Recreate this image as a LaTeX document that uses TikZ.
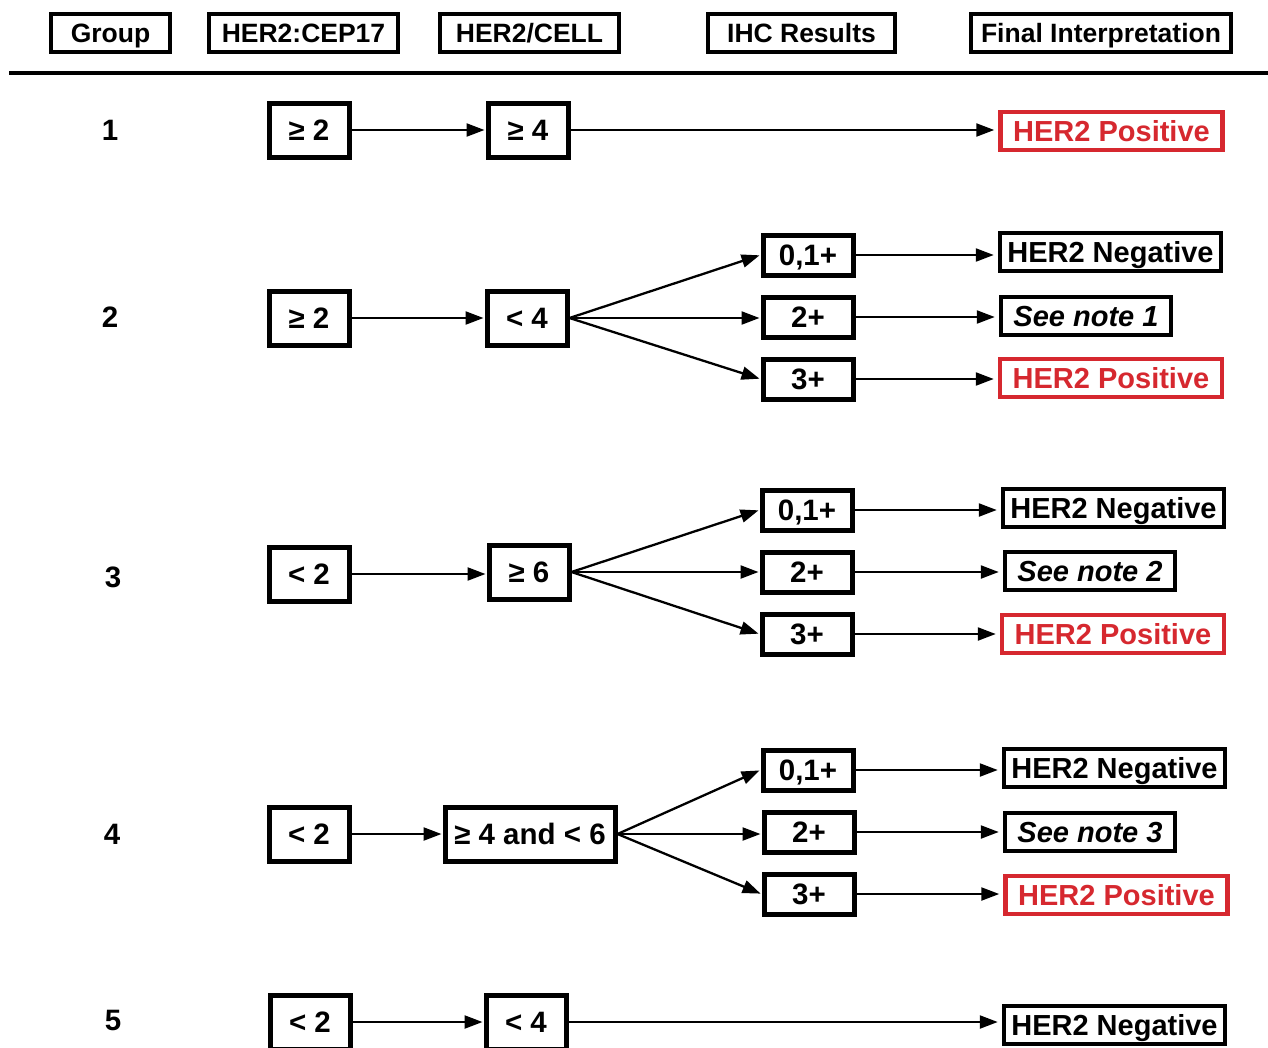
\documentclass[tikz,border=0pt]{standalone}
\usepackage{fontspec}
\setmainfont{Liberation Sans}
\usetikzlibrary{arrows.meta}
\definecolor{posred}{RGB}{214,40,47}
\tikzset{
  hdr/.style={draw, line width=4.5pt, inner sep=0pt, minimum height=38pt,
    text height=19pt, text depth=0pt,
    font=\fontsize{26.5}{28}\selectfont\bfseries},
  cbox/.style={draw, line width=5pt, inner sep=0pt, minimum width=80pt, minimum height=54pt,
    text height=21pt, text depth=0pt,
    font=\fontsize{29.5}{30}\selectfont\bfseries},
  ibox/.style={draw, line width=5pt, inner sep=0pt, minimum width=90pt, minimum height=40pt,
    text height=21pt, text depth=0pt,
    font=\fontsize{29.5}{30}\selectfont\bfseries},
  fbox/.style={draw, line width=4.5pt, inner sep=0pt, minimum height=38pt,
    text height=20.8pt, text depth=0pt,
    font=\fontsize{29}{30}\selectfont\bfseries},
  posbox/.style={fbox, draw=posred, text=posred, minimum width=222pt},
  negbox/.style={fbox, minimum width=221pt},
  notebox/.style={fbox, minimum width=170pt, font=\fontsize{29}{30}\selectfont\bfseries\itshape},
  numlbl/.style={inner sep=0pt, text height=21pt, text depth=0pt,
    font=\fontsize{29.5}{30}\selectfont\bfseries},
  arr/.style={line width=2.3pt, -{Triangle[length=18pt,width=13pt]}, shorten >=1pt},
  arrf/.style={arr, shorten >=4pt},
}
\begin{document}
\begin{tikzpicture}[x=1pt, y=-1pt]
\useasboundingbox (0,0) rectangle (1268,1047);
\clip (0,0) rectangle (1268,1047);
% headers
\node[hdr, minimum width=119pt] (hg) at (110.5,33) {Group};
\node[hdr, minimum width=189pt] (hc) at (303.5,33) {HER2:CEP17};
\node[hdr, minimum width=179pt] (hh) at (529.5,33) {HER2/CELL};
\node[hdr, minimum width=187pt] (hi) at (801.5,33) {IHC Results};
\node[hdr, minimum width=260pt] (hf) at (1101,33) {Final Interpretation};
\coordinate (rl) at (9,73);
\coordinate (rr) at (1268,73);
\draw[line width=3.5pt] (rl) -- (rr);

% row 1
\node[numlbl] (n1) at (110,130) {1};
\node[cbox] (a1) at (309,130) {≥ 2};
\node[cbox] (b1) at (528,130) {≥ 4};
\node[posbox] (f1) at (1111.5,131) {HER2 Positive};
\draw[arr] (a1) -- (b1);
\draw[arrf] (b1.east) -- (f1.west |- b1.east);

% row 2
\node[numlbl] (n2) at (110,317) {2};
\node[cbox] (a2) at (309,318) {≥ 2};
\node[cbox] (b2) at (527,318) {< 4};
\node[ibox] (i2a) at (808,255) {0,1+};
\node[ibox] (i2b) at (808,317) {2+};
\node[ibox] (i2c) at (808,379) {3+};
\node[negbox] (f2a) at (1110.5,252) {HER2 Negative};
\node[notebox] (f2b) at (1086,316) {See note 1};
\node[posbox] (f2c) at (1111,378) {HER2 Positive};
\draw[arr] (a2) -- (b2);
\draw[arr] (b2.east) -- (i2a.west);
\draw[arr] (b2.east) -- (i2b.west |- b2.east);
\draw[arr] (b2.east) -- (i2c.west);
\draw[arrf] (i2a.east) -- (f2a.west |- i2a.east);
\draw[arrf] (i2b.east) -- (f2b.west |- i2b.east);
\draw[arrf] (i2c.east) -- (f2c.west |- i2c.east);

% row 3
\node[numlbl] (n3) at (113,577) {3};
\node[cbox] (a3) at (309,574) {< 2};
\node[cbox] (b3) at (529,572) {≥ 6};
\node[ibox] (i3a) at (807,510) {0,1+};
\node[ibox] (i3b) at (807,572) {2+};
\node[ibox] (i3c) at (807,634) {3+};
\node[negbox] (f3a) at (1113.5,508) {HER2 Negative};
\node[notebox] (f3b) at (1090,571) {See note 2};
\node[posbox] (f3c) at (1113,634) {HER2 Positive};
\draw[arr] (a3.east) -- (b3.west |- a3.east);
\draw[arr] (b3.east) -- (i3a.west);
\draw[arr] (b3.east) -- (i3b.west |- b3.east);
\draw[arr] (b3.east) -- (i3c.west);
\draw[arrf] (i3a.east) -- (f3a.west |- i3a.east);
\draw[arrf] (i3b.east) -- (f3b.west |- i3b.east);
\draw[arrf] (i3c.east) -- (f3c.west |- i3c.east);

% row 4
\node[numlbl] (n4) at (112,834) {4};
\node[cbox] (a4) at (309,834) {< 2};
\node[cbox, minimum width=170pt] (b4) at (530,834) {≥ 4 and < 6};
\node[ibox] (i4a) at (808,770) {0,1+};
\node[ibox] (i4b) at (809,832) {2+};
\node[ibox] (i4c) at (809,894) {3+};
\node[negbox] (f4a) at (1114.5,768) {HER2 Negative};
\node[notebox] (f4b) at (1090,832) {See note 3};
\node[posbox] (f4c) at (1116.5,895) {HER2 Positive};
\draw[arr] (a4) -- (b4);
\draw[arr] (b4.east) -- (i4a.west);
\draw[arr] (b4.east) -- (i4b.west |- b4.east);
\draw[arr] (b4.east) -- (i4c.west);
\draw[arrf] (i4a.east) -- (f4a.west |- i4a.east);
\draw[arrf] (i4b.east) -- (f4b.west |- i4b.east);
\draw[arrf] (i4c.east) -- (f4c.west |- i4c.east);

% row 5
\node[numlbl] (n5) at (113,1020) {5};
\node[cbox] (a5) at (310,1022) {< 2};
\node[cbox] (b5) at (526,1022) {< 4};
\node[negbox] (f5) at (1114.5,1025) {HER2 Negative};
\draw[arr] (a5) -- (b5);
\draw[arrf] (b5.east) -- (f5.west |- b5.east);
\end{tikzpicture}
\end{document}
